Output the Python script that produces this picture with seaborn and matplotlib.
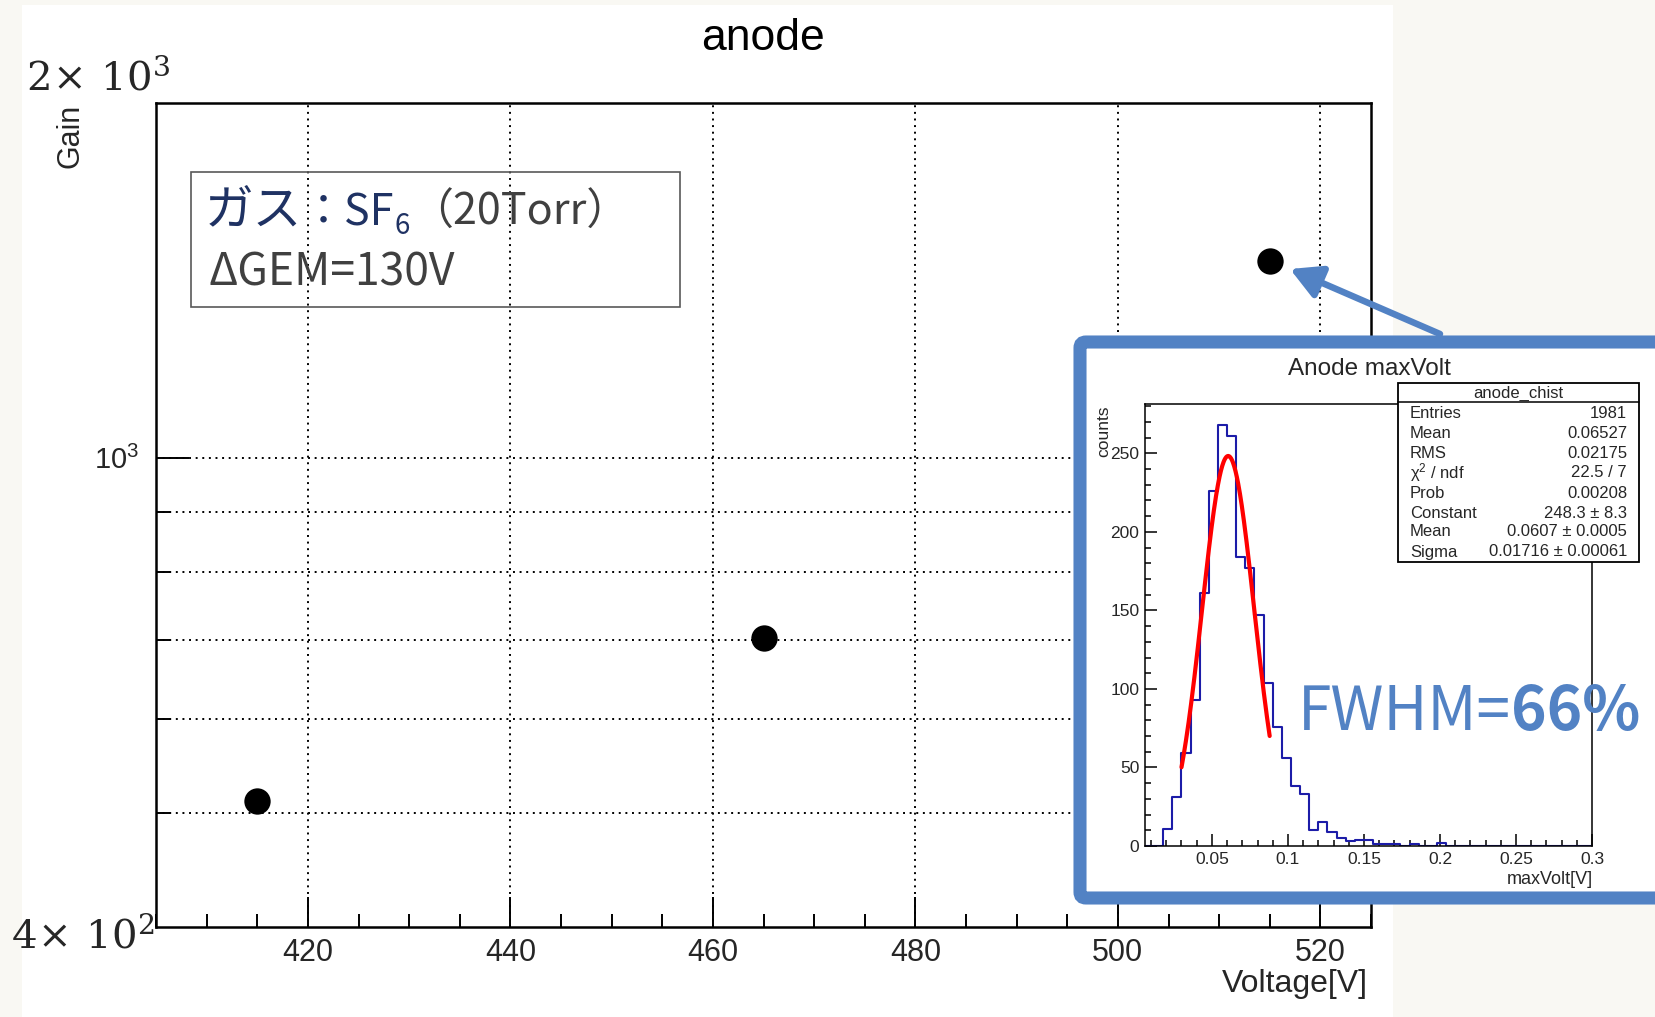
import numpy as np
import pandas as pd
import matplotlib
matplotlib.use("Agg")
import matplotlib.pyplot as plt
import matplotlib.patches as mpatches
import matplotlib.lines as mlines
import matplotlib.transforms as mtransforms
from matplotlib.ticker import FixedLocator, NullFormatter
import seaborn as sns

# ---------------- data ----------------
voltage = [415, 465, 515]
gain = [512, 704, 1469]

x_major_ticks = [420, 440, 460, 480, 500, 520]
x_minor_ticks = [405, 410, 415, 425, 430, 435, 445, 450, 455, 465, 470, 475,
                 485, 490, 495, 505, 510, 515, 525]
y_major_ticks = [1000]
y_minor_ticks = [500, 600, 700, 800, 900]

# inset histogram (ROOT: anode_chist), bins of width 0.006 from 0.006 to 0.300
hist_lo, hist_hi, hist_binwidth = 0.006, 0.300, 0.006
hist_counts = [0, 0, 11, 31, 59, 93, 161, 226, 268, 261, 184, 177, 147, 104,
               76, 56, 38, 33, 10, 15, 9, 5, 3, 4, 4, 1, 1, 1, 0, 1, 0, 0, 2,
               0, 0, 0, 0, 0, 0, 0, 0, 0, 0, 0, 0, 0, 0, 0, 0]
fit_constant, fit_mean, fit_sigma = 248.3, 0.0607, 0.01716
fit_range = (0.030, 0.088)

inset_x_ticks = [0.05, 0.1, 0.15, 0.2, 0.25, 0.3]
inset_x_labels = ["0.05", "0.1", "0.15", "0.2", "0.25", "0.3"]
inset_y_ticks = [0, 50, 100, 150, 200, 250]

stats_names = ["Entries", "Mean", "RMS", "χ$^{2}$ / ndf", "Prob",
               "Constant", "Mean", "Sigma"]
stats_values = ["1981", "0.06527", "0.02175", "22.5 / 7", "0.00208",
                "248.3 ± 8.3", "0.0607 ± 0.0005", "0.01716 ± 0.00061"]

# ---------------- figure ----------------
W, H = 1655, 1017
sns.set_theme(style="white")
plt.rcParams["font.family"] = ["Liberation Sans", "DejaVu Sans"]
plt.rcParams["axes.unicode_minus"] = False
plt.rcParams["mathtext.fontset"] = "custom"
plt.rcParams["mathtext.rm"] = "Liberation Sans"
plt.rcParams["mathtext.it"] = "Liberation Sans:italic"
plt.rcParams["mathtext.bf"] = "Liberation Sans:bold"

fig = plt.figure(figsize=(W / 100, H / 100), dpi=100)
fig.patch.set_facecolor("#f9f8f3")
PIX = mtransforms.IdentityTransform()


def fx(x):
    return x / W


def fy(y):
    return 1 - y / H


# white slide panel
fig.add_artist(mpatches.Rectangle((22, 0), 1393 - 22, H - 5, transform=PIX,
                                  facecolor="white", edgecolor="none", zorder=-5))

# ---------------- main axes ----------------
ax = fig.add_axes([fx(156), fy(927), (1371 - 156) / W, (927 - 103) / H], zorder=0)
ax.set_facecolor("white")
df = pd.DataFrame({"Voltage": voltage, "Gain": gain})
sns.scatterplot(data=df, x="Voltage", y="Gain", ax=ax, s=360, color="black",
                edgecolor="black", linewidth=0, zorder=5)
ax.set_yscale("log")
ax.set_xlim(405, 525)
ax.set_ylim(400, 2000)
ax.set_xlabel("")
ax.set_ylabel("")
ax.set_xticks(x_major_ticks)
ax.set_xticks(x_minor_ticks, minor=True)
ax.set_xticklabels([str(v) for v in x_major_ticks], fontsize=22)
ax.yaxis.set_major_locator(FixedLocator(y_major_ticks))
ax.yaxis.set_minor_locator(FixedLocator(y_minor_ticks))
ax.yaxis.set_minor_formatter(NullFormatter())
ax.set_yticklabels([r"$10^{3}$"], fontsize=21, math_fontfamily="custom")
ax.tick_params(axis="x", which="major", direction="in", length=21.5, width=1.4,
               color="black", pad=8, bottom=True, top=False)
ax.tick_params(axis="x", which="minor", direction="in", length=9.5, width=1.4,
               color="black", bottom=True, top=False)
ax.tick_params(axis="y", which="major", direction="in", length=24, width=1.4,
               color="black", pad=12, left=True, right=False)
ax.tick_params(axis="y", which="minor", direction="in", length=11, width=1.4,
               color="black", left=True, right=False)
dot = (0, (1, 2.4))
ax.grid(axis="x", which="major", linestyle=dot, linewidth=1.4, color="black")
ax.grid(axis="y", which="both", linestyle=dot, linewidth=1.4, color="black")
for s in ax.spines.values():
    s.set_visible(True)
    s.set_color("black")
    s.set_linewidth(1.8)

# main texts
fig.text(fx(763), fy(50), "anode", fontsize=32, ha="center", va="baseline", color="black")
fig.text(fx(70), fy(136), "Gain", fontsize=22, rotation=90, ha="center", va="center")
fig.text(fx(1368), fy(992), "Voltage[V]", fontsize=23, ha="right", va="baseline")
fig.text(fx(26), fy(90), r"$2\!\times\!\ 10^{3}$", fontsize=29, ha="left",
         va="baseline", color="#262626", math_fontfamily="dejavuserif")
fig.text(fx(11), fy(948), r"$4\!\times\!\ 10^{2}$", fontsize=29, ha="left",
         va="baseline", color="#262626", math_fontfamily="dejavuserif")

# annotation box (transparent)
fig.add_artist(mpatches.Rectangle((191, H - 307), 680 - 191, 307 - 172, transform=PIX,
                                  facecolor="none", edgecolor="#595959", lw=1.2, zorder=3))

renderer = fig.canvas.get_renderer()
jp = ["Noto Sans CJK JP", "DejaVu Sans"]


def runs(items, x0, ybase, z=4):
    x = x0
    for txt, color, size, drop, weight in items:
        t = fig.text(fx(x), fy(ybase + drop), txt, color=color, fontsize=size,
                     ha="left", va="baseline", family=jp, fontweight=weight, zorder=z)
        x += t.get_window_extent(renderer).width


navy = "#1f3263"
gray = "#404040"
runs([("ガス", navy, 35, 0, "normal"), ("：SF", navy, 31, 0, "normal"),
      ("6", navy, 20, 9, "normal"), ("（20Torr）", gray, 31, 0, "normal")], 205, 225)
runs([("ΔGEM=130V", gray, 32, 0, "normal")], 208, 286)

# ---------------- inset ----------------
blue = "#5282C4"
fig.add_artist(mpatches.FancyBboxPatch((1080, H - 898), 620, 898 - 342,
                                       boxstyle="round,pad=0,rounding_size=6",
                                       transform=PIX, facecolor="white",
                                       edgecolor=blue, lw=9.4, zorder=2))
fig.add_artist(mpatches.FancyArrowPatch((1440, H - 334), (1290, H - 269), transform=PIX,
                                        arrowstyle="-|>,head_length=1.1,head_width=0.6",
                                        mutation_scale=17, lw=4.7, color=blue,
                                        shrinkA=0, shrinkB=0, zorder=2.5))

ax2 = fig.add_axes([fx(1145), fy(846), (1592 - 1145) / W, (846 - 404) / H], zorder=5)
ax2.set_facecolor("white")
centers = hist_lo + hist_binwidth * (np.arange(len(hist_counts)) + 0.5)
hdf = pd.DataFrame({"maxVolt": centers, "counts": hist_counts})
sns.histplot(data=hdf, x="maxVolt", weights="counts", binwidth=hist_binwidth,
             binrange=(hist_lo, hist_hi), element="step", fill=False,
             color="#1c1ca8", linewidth=1.5, ax=ax2)
xs = np.linspace(fit_range[0], fit_range[1], 200)
ys = fit_constant * np.exp(-0.5 * ((xs - fit_mean) / fit_sigma) ** 2)
sns.lineplot(x=xs, y=ys, color="red", linewidth=3, ax=ax2, zorder=6)
ax2.set_xlim(hist_lo, hist_hi)
ax2.set_ylim(0, 281.4)
ax2.set_xlabel("")
ax2.set_ylabel("")
ax2.set_xticks(inset_x_ticks)
ax2.set_xticklabels(inset_x_labels, fontsize=12.5)
ax2.set_xticks(np.round(np.arange(0.01, 0.30, 0.01), 3), minor=True)
ax2.set_yticks(inset_y_ticks)
ax2.set_yticklabels([str(v) for v in inset_y_ticks], fontsize=12.5)
ax2.set_yticks(np.arange(10, 281, 10), minor=True)
ax2.tick_params(which="major", direction="in", length=8.5, width=1.1, color="black",
                pad=4, bottom=True, left=True, top=False, right=False)
ax2.tick_params(which="minor", direction="in", length=4.3, width=1.1, color="black",
                bottom=True, left=True, top=False, right=False)
for s in ax2.spines.values():
    s.set_visible(True)
    s.set_color("black")
    s.set_linewidth(1.1)

fig.text(fx(1369), fy(369), "Anode maxVolt", fontsize=17.5, ha="center", va="center", zorder=7)
fig.text(fx(1104), fy(431), "counts", fontsize=12.5, rotation=90, ha="center",
         va="center", zorder=7)
fig.text(fx(1593), fy(879), "maxVolt[V]", fontsize=13, ha="right", va="center", zorder=7)

# stats box
fig.add_artist(mpatches.Rectangle((1398, H - 562), 1639 - 1398, 562 - 383, transform=PIX,
                                  facecolor="white", edgecolor="black", lw=1.3, zorder=7))
fig.add_artist(mlines.Line2D([1398, 1639], [H - 402, H - 402], transform=PIX,
                             color="black", lw=1.1, zorder=8))
fig.text(fx(1518), fy(393), "anode_chist", fontsize=12, ha="center", va="center", zorder=8)
row_y = [414, 434, 454, 473, 493, 513, 532, 552]
for name, val, yy in zip(stats_names, stats_values, row_y):
    fig.text(fx(1410), fy(yy), name, fontsize=12, ha="left", va="center", zorder=8,
             math_fontfamily="custom")
    fig.text(fx(1627), fy(yy), val, fontsize=12, ha="right", va="center", zorder=8)

# FWHM label (drawn above the inset axes)
runs([("FWHM=", blue, 43.5, 0, "normal"), ("66%", blue, 43.5, 0, "bold")], 1298, 730, z=9)

fig.savefig("out.png", dpi=100, facecolor=fig.get_facecolor())
